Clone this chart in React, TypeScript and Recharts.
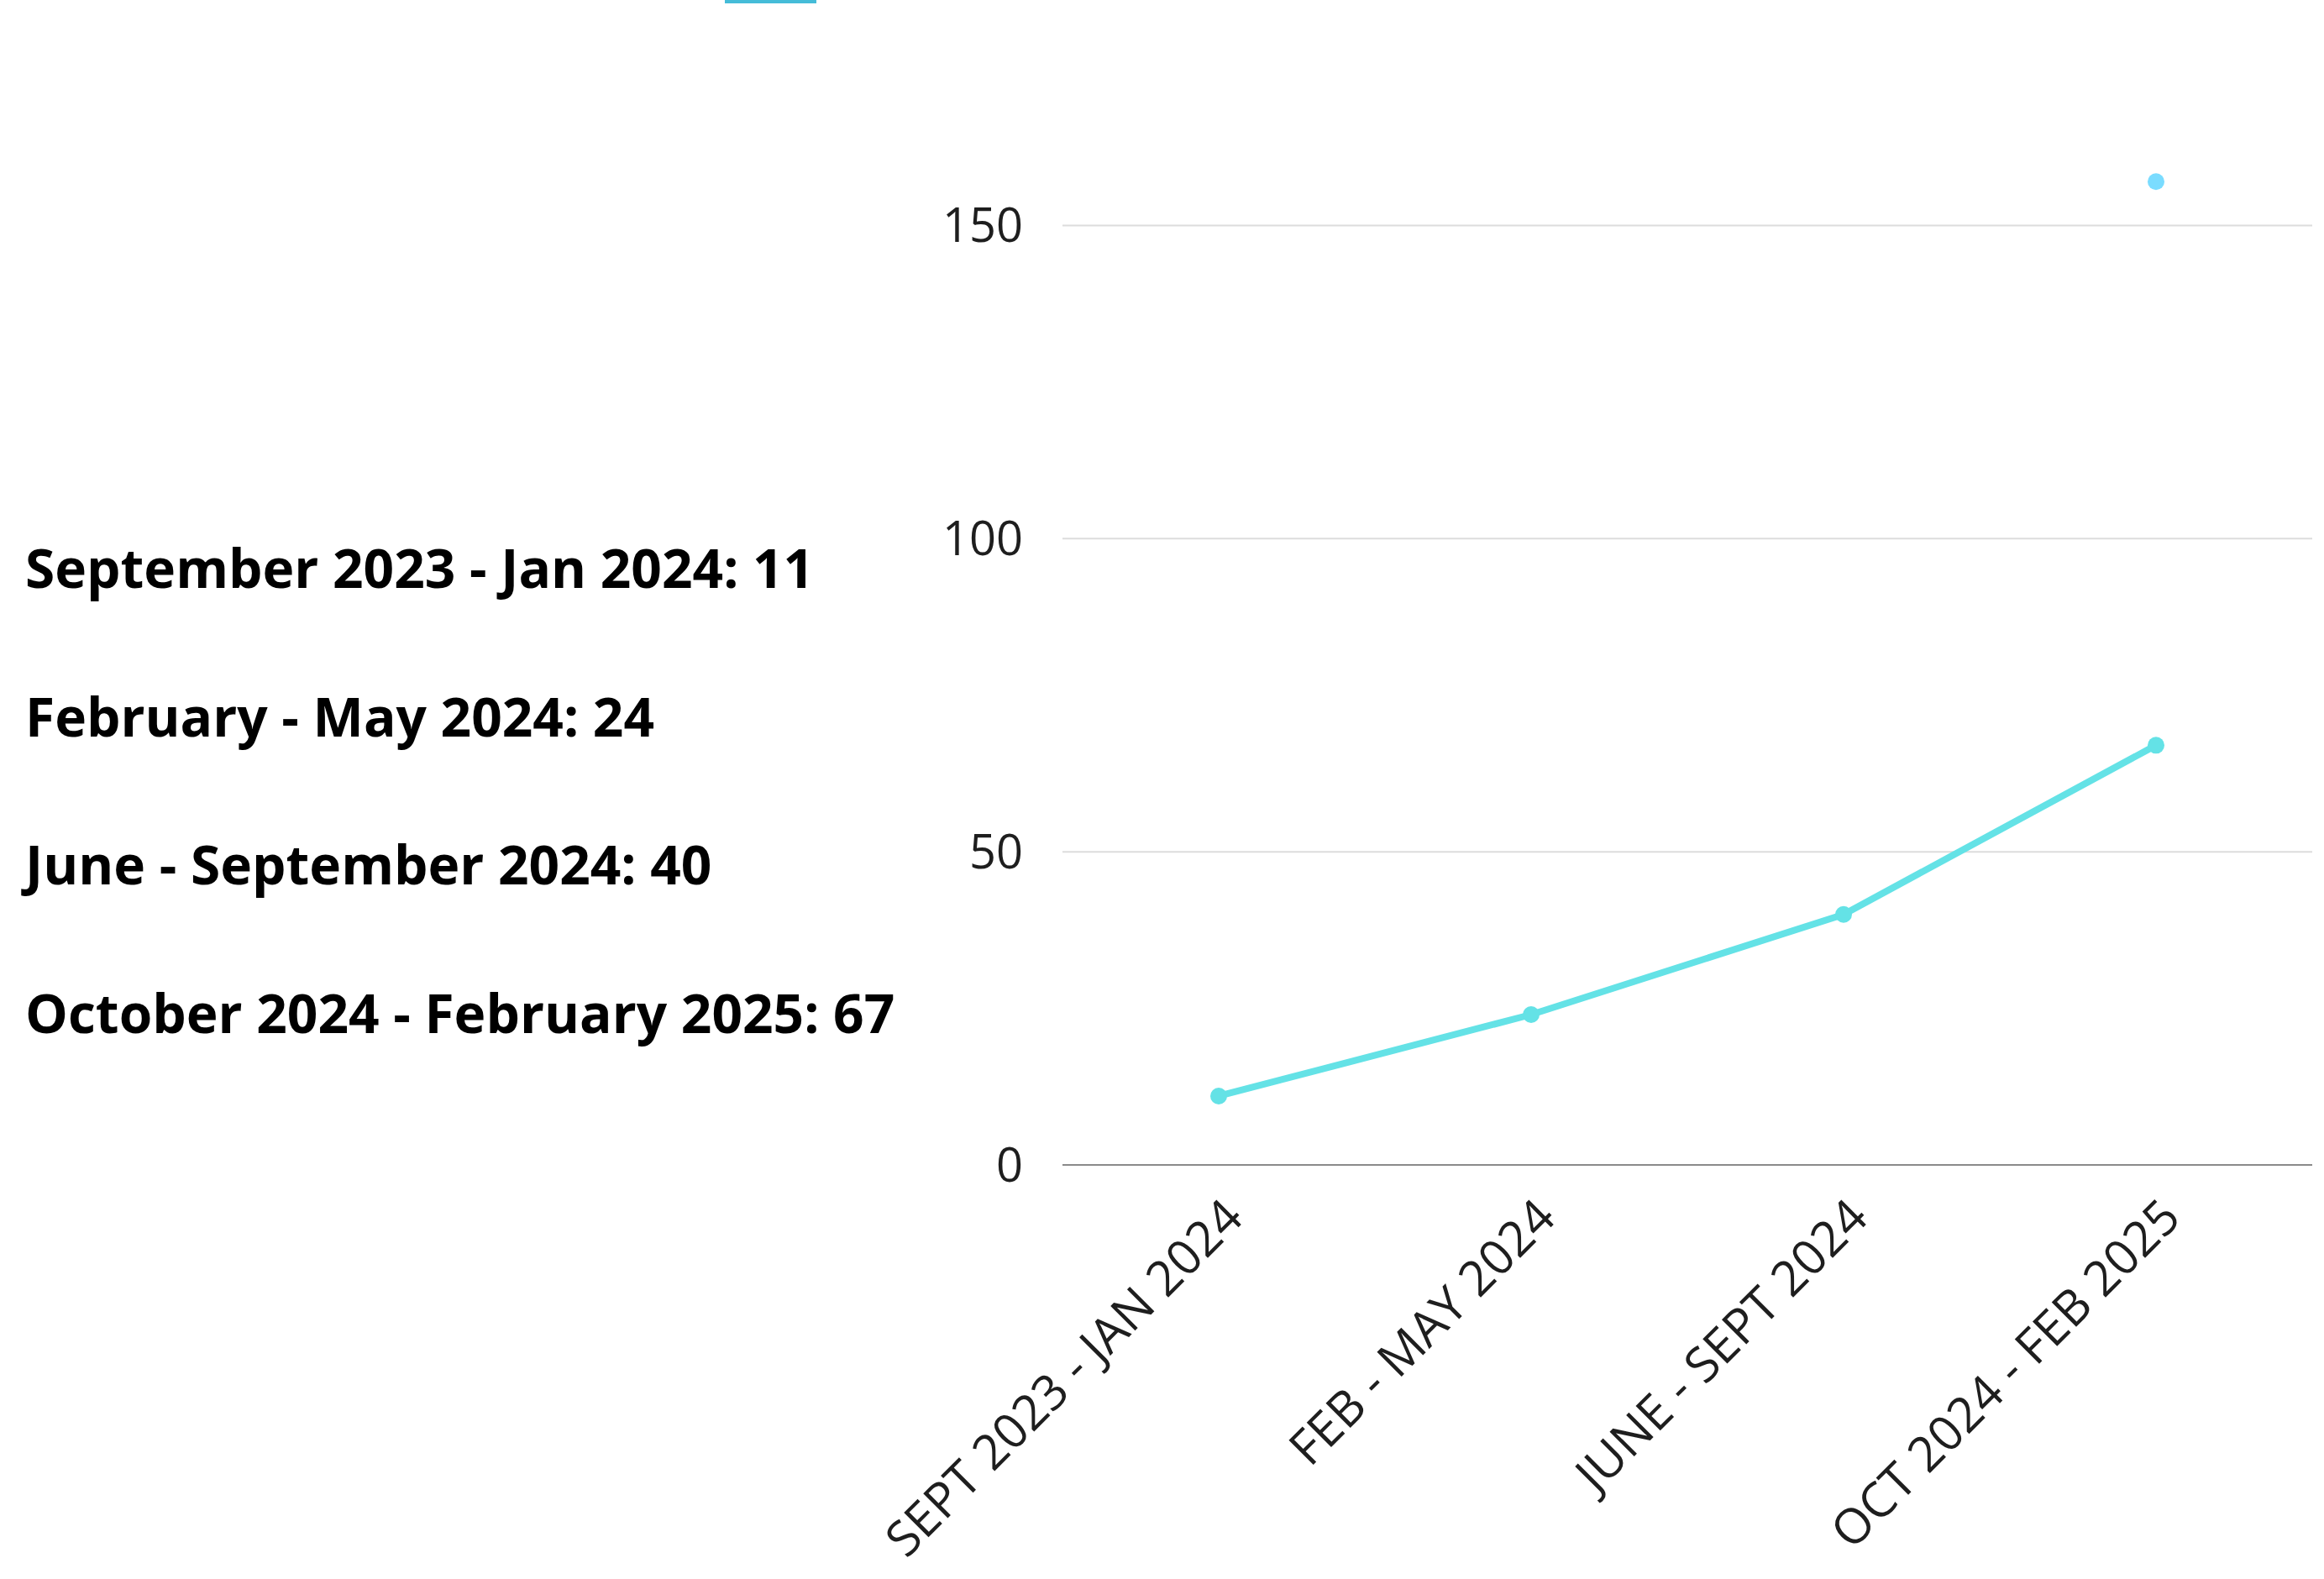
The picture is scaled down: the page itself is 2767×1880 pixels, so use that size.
import React from "react";
import {
  LineChart,
  Line,
  XAxis,
  YAxis,
  CartesianGrid,
  Legend,
} from "recharts";

const periods = [
  "SEPT 2023 - JAN 2024",
  "FEB - MAY 2024",
  "JUNE - SEPT 2024",
  "OCT 2024 - FEB 2025",
];
const counts = [11, 24, 40, 67];
const extra: (number | null)[] = [null, null, null, 157];
const yTicks = [0, 50, 100, 150];
const summaryLines = [
  "September 2023 - Jan 2024: 11",
  "February - May 2024: 24",
  "June - September 2024: 40",
  "October 2024 - February 2025: 67",
];

const data = periods.map((period, i) => ({
  period,
  count: counts[i],
  extra: extra[i],
}));

const tickFont = "'Open Sans', sans-serif";

function PeriodTick({ x, y, payload }: any) {
  return (
    <g transform={`translate(${x},${y})`}>
      <text
        transform="translate(16,50) rotate(-45)"
        textAnchor="end"
        dominantBaseline="central"
        fontFamily={tickFont}
        fontSize={58}
        fill="#1e1e1e"
      >
        {payload.value}
      </text>
    </g>
  );
}

export default function App() {
  return (
    <div
      style={{
        position: "absolute",
        top: 0,
        left: 0,
        width: 2767,
        height: 1880,
        overflow: "hidden",
        background: "#fff",
      }}
    >
      {summaryLines.map((line, i) => (
        <div
          key={line}
          style={{
            position: "absolute",
            left: 30,
            top: 644 + i * 176.5,
            fontFamily: "'Open Sans', sans-serif",
            fontWeight: 700,
            fontSize: 64,
            lineHeight: "64px",
            color: "#000",
            whiteSpace: "nowrap",
          }}
        >
          {line}
        </div>
      ))}
      <LineChart
        width={2767}
        height={1880}
        data={data}
        margin={{ top: 82, right: 14, bottom: 0, left: 965 }}
      >
        <CartesianGrid
          vertical={false}
          horizontalValues={yTicks}
          stroke="#dcdcdc"
          strokeWidth={2}
        />
        <XAxis
          dataKey="period"
          scale="band"
          interval={0}
          height={493}
          tickSize={0}
          tickMargin={0}
          tickLine={false}
          axisLine={{ stroke: "#8a8a8a", strokeWidth: 2 }}
          tick={<PeriodTick />}
        />
        <YAxis
          width={300}
          domain={[0, 175]}
          ticks={yTicks}
          tickSize={0}
          tickMargin={47}
          tickLine={false}
          axisLine={false}
          tick={{ fontFamily: tickFont, fontSize: 56, fill: "#1e1e1e" }}
        />
        <Legend
          layout="vertical"
          verticalAlign="middle"
          align="center"
          wrapperStyle={{ top: 0, left: 863, width: 109, height: 4 }}
          content={() => (
            <div style={{ width: 109, height: 4, background: "#45bcd8" }} />
          )}
        />
        <Line
          type="linear"
          dataKey="count"
          stroke="#64e2e6"
          strokeWidth={8}
          dot={{ r: 10, fill: "#64e2e6", stroke: "none" }}
          isAnimationActive={false}
        />
        <Line
          type="linear"
          dataKey="extra"
          stroke="#7adcff"
          strokeWidth={8}
          dot={{ r: 10, fill: "#7adcff", stroke: "none" }}
          isAnimationActive={false}
        />
      </LineChart>
    </div>
  );
}
